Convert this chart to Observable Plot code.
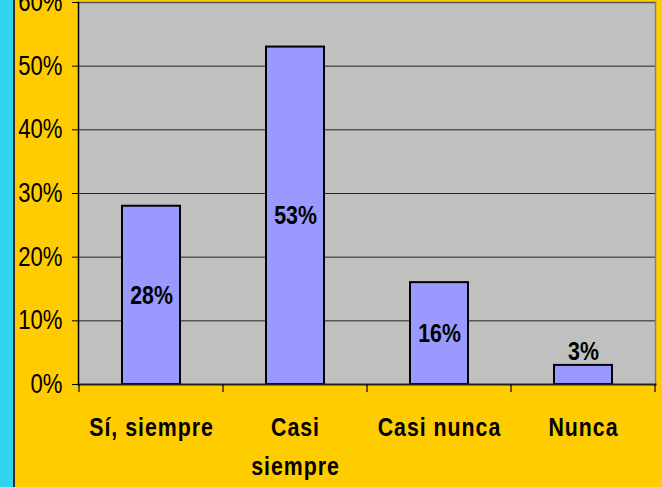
<!DOCTYPE html>
<html><head><meta charset="utf-8">
<script src="https://cdn.jsdelivr.net/npm/d3@7"></script>
<script src="https://cdn.jsdelivr.net/npm/@observablehq/plot@0.6"></script>
<style>
body{margin:0;background:#FFCC00;}
#wrap{position:relative;width:662px;height:487px;overflow:hidden;background:#FFCC00;}
#strip{position:absolute;left:0;top:0;width:13px;height:487px;background:#31D4EF;border-right:2px solid #2a2a2a;}
#chart{position:absolute;left:0;top:0;}
</style></head><body>
<div id="wrap"><div id="chart"></div><div id="strip"></div></div>
<script>
const categories = ["Sí, siempre", "Casi\nsiempre", "Casi nunca", "Nunca"];
const values = [28, 53, 16, 3];
const yTicks = [0, 10, 20, 30, 40, 50, 60];

const data = categories.map((c, i) => ({cat: c, value: values[i], label: values[i] + "%"}));
const font = "'Liberation Sans', Arial, sans-serif";

const plot = Plot.plot({
  width: 662,
  height: 487,
  marginLeft: 78,
  marginRight: 7,
  marginTop: 2,
  marginBottom: 103,
  style: {background: "transparent", fontFamily: font, color: "#000", overflow: "visible"},
  x: {domain: categories, paddingInner: 0.6, paddingOuter: 0.3, label: null},
  y: {domain: [0, 60], label: null},
  marks: [
    Plot.frame({fill: "#C0C0C0"}),
    Plot.gridY({ticks: yTicks, stroke: "#222", strokeOpacity: 1, strokeWidth: 1}),
    Plot.frame({anchor: "top", stroke: "#555", strokeWidth: 1.5}),
    Plot.frame({anchor: "right", stroke: "#808080", strokeWidth: 1.5}),
    Plot.barY(data, {x: "cat", y: "value", fill: "#9999FF", stroke: "#000", strokeWidth: 2}),
    Plot.frame({anchor: "left", stroke: "#000", strokeWidth: 1.5}),
    Plot.frame({anchor: "bottom", stroke: "#222", strokeWidth: 2}),
    Plot.axisY({ticks: yTicks, tickFormat: d => d + "%", tickSize: 6, tickPadding: 10, fontSize: 27, stroke: "#000"}),
    Plot.axisX({tickSize: 0, tickPadding: 24, fontSize: 26, fontWeight: "bold", lineHeight: 1.5}),
    Plot.text(data.filter(d => d.value >= 10), {x: "cat", y: d => d.value / 2, text: "label", fontSize: 26, fontWeight: "bold", fill: "#000"}),
    Plot.text(data.filter(d => d.value < 10), {x: "cat", y: "value", text: "label", fontSize: 26, fontWeight: "bold", fill: "#000", lineAnchor: "bottom", dy: -5})
  ]
});

// boundary ticks between categories on the x axis, placed from the library's band scale
const xs = plot.scale("x");
const ys = plot.scale("y");
const gap = (xs.step - xs.bandwidth) / 2;
const bounds = categories.map(c => xs.apply(c) - gap);
bounds.push(xs.apply(categories[categories.length - 1]) + xs.bandwidth + gap);
const y0 = ys.apply(0);
d3.select(plot).append("g")
  .selectAll("line").data(bounds).join("line")
  .attr("x1", d => d).attr("x2", d => d)
  .attr("y1", y0).attr("y2", y0 + 8)
  .attr("stroke", "#000").attr("stroke-width", 1.2);

d3.select(plot).selectAll("g[aria-label='x-axis tick label'] text").style("letter-spacing", "1.2px");

// narrow the type horizontally (like Arial Narrow), keeping each text's anchor point
d3.select(plot).selectAll("text").each(function() {
  const xa = this.getAttribute("x");
  const x = xa && /^-?[\d.]+$/.test(xa) ? +xa : 0;
  const t = this.getAttribute("transform") || "";
  this.setAttribute("transform", `${t} translate(${x},0) scale(0.82,1) translate(${-x},0)`.trim());
});

document.getElementById("chart").append(plot);
</script>
</body></html>
